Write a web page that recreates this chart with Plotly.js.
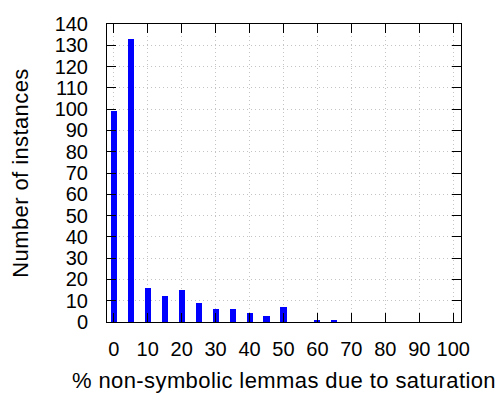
<!DOCTYPE html>
<html>
<head>
<meta charset="utf-8">
<script src="https://cdn.plot.ly/plotly-3.0.1.min.js"></script>
<style>
html,body{margin:0;padding:0;background:#fff;}
#chart{width:500px;height:400px;}
.xtitle,.ytitle{letter-spacing:0.4px;}
</style>
</head>
<body>
<div id="chart"></div>
<script>
const binStarts = [0, 5, 10, 15, 20, 25, 30, 35, 40, 45, 50, 55, 60, 65];
const instanceCounts = [99, 133, 16, 12, 15, 9, 6, 6, 4, 3, 7, 0, 1, 1];
const xTickValues = [0, 10, 20, 30, 40, 50, 60, 70, 80, 90, 100];
const yTickValues = [0, 10, 20, 30, 40, 50, 60, 70, 80, 90, 100, 110, 120, 130, 140];
const xTitle = "% non-symbolic lemmas due to saturation";
const yTitle = "Number of instances";

const tickFont = {family: "Liberation Sans, Arial, sans-serif", size: 20, color: "#000"};
const titleFont = {family: "Liberation Sans, Arial, sans-serif", size: 22, color: "#000"};

Plotly.newPlot("chart", [{
  type: "bar",
  x: binStarts,
  y: instanceCounts,
  width: 1.8,
  marker: {color: "#0000ff", line: {width: 0}},
  hoverinfo: "skip"
}], {
  width: 500, height: 400,
  margin: {l: 107, r: 39, t: 24, b: 78, pad: 0},
  paper_bgcolor: "#fff", plot_bgcolor: "#fff",
  font: tickFont,
  showlegend: false,
  bargap: 0,
  xaxis: {
    range: [-2, 102.3],
    tickvals: xTickValues,
    ticktext: xTickValues.map(String),
    ticks: "inside", ticklen: 9, tickwidth: 1, tickcolor: "#000",
    showline: true, linecolor: "#000", linewidth: 1, mirror: "ticks",
    showgrid: true, gridcolor: "#c4c4c4", griddash: "1px,3px", gridwidth: 1,
    zeroline: false,
    ticklabelstandoff: 9,
    tickfont: tickFont,
    title: {text: xTitle, font: titleFont, standoff: 13}
  },
  yaxis: {
    range: [0, 140],
    tickvals: yTickValues,
    ticktext: yTickValues.map(String),
    ticks: "inside", ticklen: 9, tickwidth: 1, tickcolor: "#000",
    showline: true, linecolor: "#000", linewidth: 1, mirror: "ticks",
    showgrid: true, gridcolor: "#c4c4c4", griddash: "1px,3px", gridwidth: 1,
    zeroline: false,
    ticklabelstandoff: 14,
    tickfont: tickFont,
    title: {text: yTitle, font: titleFont, standoff: 19}
  }
}, {displayModeBar: false, staticPlot: true});
</script>
</body>
</html>
